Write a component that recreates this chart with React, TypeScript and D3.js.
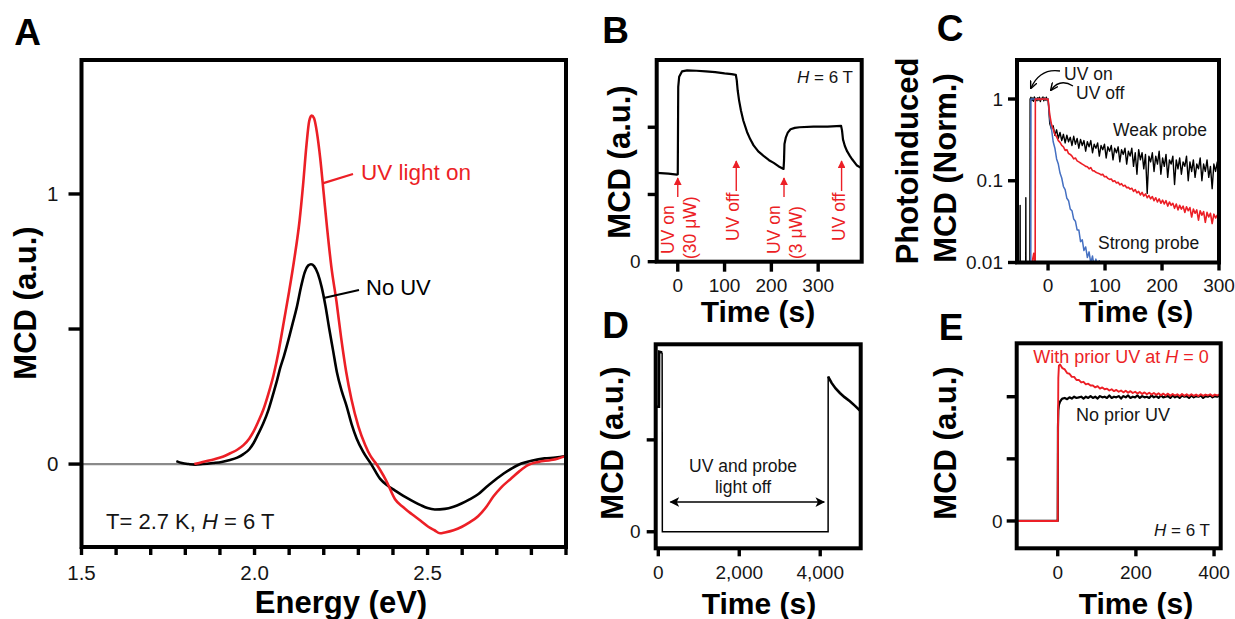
import React from "react";
import * as d3 from "d3";

const FONT = "'Liberation Sans', Arial, Helvetica, sans-serif";
const RED = "#ec1f26";
const BLUE = "#4570c2";
const INK = "#151515";

type P = [number, number];

// ================= Panel A : MCD spectra =================
const aXMajor = [1.5, 2.0, 2.5];
const aXMajorLabels = ["1.5", "2.0", "2.5"];
const aXMinor = [1.6, 1.7, 1.8, 1.9, 2.1, 2.2, 2.3, 2.4, 2.6, 2.7, 2.8, 2.9];
const aYTicks = [0, 0.5, 1];
const aYLabels = ["0", "", "1"];
const aNoUV: P[] = [
  [1.774, 0.011], [1.79, 0.004], [1.81, 0.0], [1.828, -0.002], [1.85, 0.0], [1.88, 0.004],
  [1.905, 0.008], [1.929, 0.015], [1.95, 0.024], [1.968, 0.037], [1.985, 0.055], [1.997, 0.077],
  [2.01, 0.11], [2.025, 0.15], [2.04, 0.2], [2.054, 0.26], [2.065, 0.31], [2.074, 0.355],
  [2.085, 0.4], [2.1, 0.47], [2.11, 0.52], [2.122, 0.58], [2.135, 0.66], [2.145, 0.71],
  [2.155, 0.735], [2.163, 0.74], [2.172, 0.733], [2.183, 0.705], [2.194, 0.655], [2.205, 0.585],
  [2.216, 0.5], [2.227, 0.42], [2.238, 0.34], [2.252, 0.27], [2.266, 0.215], [2.28, 0.15],
  [2.295, 0.095], [2.314, 0.045], [2.337, 0.0], [2.363, -0.055], [2.385, -0.08], [2.406, -0.098],
  [2.43, -0.118], [2.454, -0.135], [2.48, -0.152], [2.5, -0.163], [2.521, -0.168], [2.55, -0.166],
  [2.575, -0.158], [2.598, -0.146], [2.62, -0.132], [2.646, -0.112], [2.67, -0.085], [2.694, -0.06],
  [2.72, -0.035], [2.745, -0.015], [2.771, 0.002], [2.8, 0.012], [2.838, 0.021], [2.87, 0.024], [2.9, 0.03],
];
const aUVOn: P[] = [
  [1.826, 0.0], [1.85, 0.008], [1.884, 0.018], [1.91, 0.028], [1.93, 0.04], [1.95, 0.053],
  [1.968, 0.07], [1.985, 0.095], [1.997, 0.12], [2.01, 0.155], [2.025, 0.2], [2.04, 0.26],
  [2.055, 0.33], [2.07, 0.42], [2.085, 0.53], [2.1, 0.64], [2.115, 0.76], [2.13, 0.9],
  [2.14, 1.03], [2.15, 1.18], [2.158, 1.27], [2.165, 1.29], [2.172, 1.28], [2.18, 1.23],
  [2.19, 1.13], [2.2, 1.0], [2.21, 0.87], [2.222, 0.73], [2.237, 0.6], [2.25, 0.47],
  [2.265, 0.34], [2.28, 0.24], [2.3, 0.14], [2.32, 0.07], [2.335, 0.03], [2.352, 0.0],
  [2.363, -0.022], [2.38, -0.06], [2.406, -0.13], [2.43, -0.16], [2.454, -0.185], [2.48, -0.21],
  [2.502, -0.232], [2.52, -0.245], [2.536, -0.256], [2.55, -0.253], [2.575, -0.245], [2.598, -0.233],
  [2.62, -0.217], [2.646, -0.193], [2.67, -0.158], [2.69, -0.12], [2.713, -0.086], [2.74, -0.055],
  [2.765, -0.027], [2.79, -0.004], [2.82, 0.008], [2.857, 0.015], [2.875, 0.02], [2.9, 0.03],
];

// ================= Panel B : MCD vs time, H = 6 T =================
const bXTicks = [0, 100, 200, 300];
const bYTicks = [0, 1, 2];
const bYLabels = ["0", "", ""];
const bTrace: P[] = [
  [-45, 1.32], [-20, 1.31], [-2, 1.295], [0, 1.3], [1, 2.6], [3, 2.75], [9, 2.83], [20, 2.845],
  [40, 2.84], [60, 2.83], [80, 2.82], [100, 2.8], [115, 2.79], [124, 2.78], [126, 2.7], [128, 2.55],
  [131, 2.4], [135, 2.25], [140, 2.1], [148, 1.93], [155, 1.82], [162, 1.73], [172, 1.64], [184, 1.57],
  [195, 1.51], [205, 1.47], [215, 1.42], [226, 1.38], [227, 1.5], [228, 1.75], [231, 1.85], [235, 1.92],
  [241, 1.97], [250, 1.99], [260, 2.0], [290, 2.01], [320, 2.01], [349, 2.02], [351, 1.95], [353, 1.82],
  [357, 1.72], [362, 1.64], [368, 1.57], [373, 1.52], [383, 1.43], [393, 1.39],
];
const bEventTimes = [0, 125, 227, 350];
const bEventLine1 = ["UV on", "UV off", "UV on", "UV off"];
const bEventLine2 = ["(30 \u03bcW)", "", "(3 \u03bcW)", ""];

// ================= Panel C : normalized photoinduced MCD (log) =================
const cXTicks = [0, 100, 200, 300];
const cYTicks = [1, 0.1, 0.01];
const cYLabels = ["1", "0.1", "0.01"];
const cStep = 3;
const cBlackPre: P[] = [
  [-55, 0.004], [-49.3, 0.004], [-49, 0.05], [-48.7, 0.004], [-39.3, 0.004], [-39, 0.062],
  [-38.7, 0.004], [-32, 0.004],
];
const cBlackTop = [1.0, 1.05, 0.96, 1.03, 0.94, 1.06, 0.98, 1.02, 0.95, 1.04, 0.97, 1.05, 0.93, 1.02, 0.99, 1.06, 0.95, 1.03, 0.97, 1.05, 0.96, 1.0];
const cBlackDecay = [
  0.5, 0.43, 0.47, 0.36, 0.42, 0.33, 0.39, 0.31, 0.37, 0.29,
  0.36, 0.3, 0.34, 0.27, 0.35, 0.28, 0.33, 0.25, 0.32, 0.27,
  0.31, 0.23, 0.3, 0.26, 0.31, 0.22, 0.28, 0.25, 0.29, 0.2,
  0.27, 0.24, 0.28, 0.19, 0.26, 0.23, 0.27, 0.18, 0.25, 0.22,
  0.26, 0.17, 0.24, 0.21, 0.25, 0.16, 0.23, 0.2, 0.25, 0.15,
  0.22, 0.12, 0.24, 0.18, 0.22, 0.14, 0.21, 0.07, 0.2, 0.17,
  0.22, 0.13, 0.2, 0.16, 0.23, 0.12, 0.19, 0.15, 0.21, 0.11,
  0.18, 0.16, 0.2, 0.09, 0.18, 0.14, 0.19, 0.12, 0.17, 0.15,
  0.2, 0.1, 0.17, 0.13, 0.18, 0.11, 0.16, 0.14, 0.19, 0.1,
  0.16, 0.13, 0.18, 0.11, 0.15, 0.08, 0.16, 0.13, 0.17, 0.12,
];
const cRedPre: P[] = [[-28, 0.004], [-27, 0.011], [-25, 0.013], [-23.5, 0.01], [-22.6, 0.009], [-22.3, 1.0]];
const cRedTop = [1.0, 0.99, 1.01, 0.98, 1.0, 1.01, 0.99, 1.0, 1.01, 0.99, 1.0];
const cRedDecay = [
  0.64, 0.49, 0.43, 0.37, 0.345, 0.31, 0.295, 0.27, 0.26, 0.235,
  0.24, 0.215, 0.21, 0.2, 0.185, 0.19, 0.175, 0.17, 0.165, 0.16,
  0.155, 0.15, 0.148, 0.14, 0.145, 0.133, 0.132, 0.127, 0.124, 0.122,
  0.118, 0.12, 0.112, 0.113, 0.107, 0.104, 0.105, 0.098, 0.1, 0.094,
  0.096, 0.089, 0.092, 0.086, 0.088, 0.082, 0.083, 0.079, 0.081, 0.074,
  0.078, 0.071, 0.074, 0.067, 0.072, 0.065, 0.069, 0.062, 0.066, 0.06,
  0.064, 0.057, 0.062, 0.055, 0.06, 0.053, 0.058, 0.052, 0.057, 0.049,
  0.055, 0.05, 0.053, 0.046, 0.052, 0.044, 0.05, 0.045, 0.049, 0.041,
  0.048, 0.043, 0.047, 0.036, 0.045, 0.04, 0.044, 0.033, 0.043, 0.038,
  0.042, 0.031, 0.041, 0.036, 0.04, 0.03, 0.039, 0.035, 0.038, 0.036,
];
const cBluePre: P[] = [[-55, 0.004], [-30.3, 0.004], [-30, 1.0], [0, 1.0]];
const cBlueDecay = [
  0.58, 0.43, 0.3, 0.25, 0.185, 0.16, 0.124, 0.108, 0.085, 0.078,
  0.061, 0.057, 0.045, 0.043, 0.034, 0.032, 0.025, 0.025, 0.018, 0.019,
  0.014, 0.0155, 0.0115, 0.0135, 0.0098, 0.012, 0.0088, 0.011, 0.0082, 0.0105,
  0.0068, 0.0098, 0.005,
];

// ================= Panel D : long dark interval =================
const dXTicks = [0, 2000, 4000];
const dXLabels = ["0", "2,000", "4,000"];
const dYTicks = [0, 1];
const dYLabels = ["0", ""];
const dStub: P[] = [[-64, 1.36], [15, 1.36], [20, 1.96], [95, 1.95]];
const dGap: P[] = [[95, 1.95], [100, 0], [4195, 0], [4197, 1.69]];
const dRecovery: P[] = [
  [4197, 1.69], [4230, 1.66], [4281, 1.62], [4380, 1.56], [4486, 1.51], [4600, 1.465],
  [4733, 1.42], [4860, 1.37], [5000, 1.31],
];

// ================= Panel E : with / without prior UV =================
const eXTicks = [0, 200, 400];
const eYTicks = [0, 1, 2];
const eYLabels = ["0", "", ""];
const eStep = 6;
const eRedPre: P[] = [[-105, 0], [0, 0], [0.6, 1.4], [1.5, 2.3], [3, 2.5]];
const eRedDecay = [
  2.52, 2.46, 2.44, 2.38, 2.37, 2.32, 2.32, 2.27, 2.27, 2.23,
  2.24, 2.2, 2.21, 2.18, 2.18, 2.15, 2.17, 2.13, 2.15, 2.12,
  2.13, 2.1, 2.12, 2.09, 2.11, 2.08, 2.1, 2.07, 2.095, 2.065,
  2.09, 2.06, 2.08, 2.05, 2.075, 2.045, 2.07, 2.04, 2.065, 2.035,
  2.06, 2.03, 2.055, 2.025, 2.05, 2.02, 2.05, 2.015, 2.045, 2.02,
  2.04, 2.01, 2.045, 2.015, 2.04, 2.01, 2.04, 2.015, 2.035, 2.01,
  2.04, 2.015, 2.035, 2.02, 2.04, 2.01, 2.035, 2.02, 2.04,
];
const eBlackPre: P[] = [[-105, 0], [0, 0], [0.6, 1.5], [1.5, 1.78], [3, 1.87], [6, 1.92], [9, 1.95]];
const eBlackFlat = [
  1.97, 1.98, 1.96, 1.99, 1.97, 2.0, 1.98, 1.99, 2.0, 1.97,
  2.0, 1.98, 2.01, 1.98, 2.0, 1.97, 2.01, 1.99, 2.0, 1.98,
  2.02, 1.98, 2.0, 1.99, 2.01, 1.97, 2.01, 1.99, 2.02, 1.98,
  2.0, 1.99, 2.02, 1.98, 2.01, 1.99, 2.0, 1.98, 2.02, 1.99,
  2.01, 1.98, 2.02, 1.99, 2.0, 2.01, 1.98, 2.02, 1.99, 2.01,
  1.98, 2.02, 2.0, 2.01, 1.98, 2.02, 1.99, 2.01, 2.0, 2.02,
  1.98, 2.01, 2.0, 2.02, 1.99, 2.01, 2.0, 2.02,
];

const stepSeries = (t0: number, step: number, vals: number[]): P[] => vals.map((v, i) => [t0 + i * step, v] as P);

type Scale = (v: number) => number;

const FRAME_W = 4;
const TICK_W = 3.4;

function Frame({ x, y }: { x: any; y: any }) {
  const [x0, x1] = x.range();
  const [y1, y0] = y.range();
  return <rect x={x0} y={y0} width={x1 - x0} height={y1 - y0} fill="none" stroke="#000" strokeWidth={FRAME_W} />;
}

function Clip({ x, y, id }: { x: any; y: any; id: string }) {
  const [x0, x1] = x.range();
  const [y1, y0] = y.range();
  return (
    <clipPath id={id}>
      <rect x={x0} y={y0} width={x1 - x0} height={y1 - y0} />
    </clipPath>
  );
}

function LeftTicks({ x, y, ticks, labels, len, gap, fs }: any) {
  const x0 = x.range()[0];
  return (
    <g>
      {ticks.map((t: number, i: number) => (
        <g key={i}>
          <line x1={x0 - len} x2={x0} y1={y(t)} y2={y(t)} stroke="#000" strokeWidth={TICK_W} />
          {labels[i] ? (
            <text x={x0 - len - gap} y={y(t)} dy="0.35em" textAnchor="end" fontSize={fs} fill={INK}>
              {labels[i]}
            </text>
          ) : null}
        </g>
      ))}
    </g>
  );
}

function BottomTicks({ x, y, ticks, labels, len, labelY, fs }: any) {
  const y1 = y.range()[0];
  return (
    <g>
      {ticks.map((t: number, i: number) => (
        <g key={i}>
          <line x1={x(t)} x2={x(t)} y1={y1} y2={y1 + len} stroke="#000" strokeWidth={TICK_W} />
          {labels && labels[i] ? (
            <text x={x(t)} y={labelY} dy="0.35em" textAnchor="middle" fontSize={fs} fill={INK}>
              {labels[i]}
            </text>
          ) : null}
        </g>
      ))}
    </g>
  );
}

function VTitle({ x, y, children, fs = 31 }: any) {
  return (
    <text transform={`translate(${x},${y}) rotate(-90)`} dy="0.35em" textAnchor="middle" fontSize={fs} fontWeight="bold" fill="#000">
      {children}
    </text>
  );
}

function HTitle({ x, y, children, fs = 31 }: any) {
  return (
    <text x={x} y={y} dy="0.35em" textAnchor="middle" fontSize={fs} fontWeight="bold" fill="#000">
      {children}
    </text>
  );
}

function Letter({ x, y, children }: any) {
  return (
    <text x={x} y={y} textAnchor="middle" fontSize={37} fontWeight="bold" fill="#000">
      {children}
    </text>
  );
}

export default function App() {
  const ax = d3.scaleLinear().domain([1.5, 2.9]).range([81.5, 566]);
  const ay = d3.scaleLinear().domain([-0.307, 1.496]).range([547, 60]);
  const bx = d3.scaleLinear().domain([-45, 393]).range([656.7, 861.7]);
  const by = d3.scaleLinear().domain([0, 3]).range([261.7, 60]);
  const cx = d3.scaleLinear().domain([-54.5, 300]).range([1017, 1219]);
  const cy = d3.scaleLog().domain([0.01, 3]).range([262.5, 60]);
  const dx = d3.scaleLinear().domain([-64, 5000]).range([655.7, 860.7]);
  const dy = d3.scaleLinear().domain([-0.18, 2.04]).range([548.3, 344.3]);
  const ex = d3.scaleLinear().domain([-105, 417]).range([1016.7, 1220.7]);
  const ey = d3.scaleLinear().domain([-0.44, 2.86]).range([548.3, 343.3]);

  const mk = (sx: Scale, sy: Scale, curve: any = d3.curveLinear) =>
    d3.line<P>().x((d) => sx(d[0])).y((d) => sy(d[1])).curve(curve);

  const aLine = mk(ax, ay, d3.curveMonotoneX);
  const bLine = mk(bx, by);
  const cLine = mk(cx, cy);
  const dLine = mk(dx, dy);
  const eLine = mk(ex, ey);

  const cBlack: P[] = [...cBlackPre, ...stepSeries(-31.5, 1.5, cBlackTop), ...stepSeries(cStep, cStep, cBlackDecay)];
  const cRed: P[] = [...cRedPre, ...stepSeries(-20, 2, cRedTop), ...stepSeries(cStep, cStep, cRedDecay)];
  const cBlue: P[] = [...cBluePre, ...stepSeries(cStep, cStep, cBlueDecay)];
  const eRed: P[] = [...eRedPre, ...stepSeries(eStep, eStep, eRedDecay)];
  const eBlack: P[] = [...eBlackPre, ...stepSeries(12, eStep, eBlackFlat)];

  const smallFs = 19;
  const noteFs = 17.5;

  return (
    <svg
      width={1235}
      height={619}
      viewBox="0 0 1235 619"
      style={{ position: "absolute", left: 0, top: 0, display: "block", background: "#fff" }}
      fontFamily={FONT}
    >
      <defs>
        <Clip x={ax} y={ay} id="clipA" />
        <Clip x={bx} y={by} id="clipB" />
        <Clip x={cx} y={cy} id="clipC" />
        <Clip x={dx} y={dy} id="clipD" />
        <Clip x={ex} y={ey} id="clipE" />
        <marker id="arrRed" viewBox="0 0 10 10" refX="9" refY="5" markerWidth="5.5" markerHeight="5.5" orient="auto-start-reverse">
          <path d="M0,0 L10,5 L0,10 z" fill={RED} />
        </marker>
        <marker id="arrBlk" viewBox="0 0 10 10" refX="9" refY="5" markerWidth="6.5" markerHeight="6.5" orient="auto-start-reverse">
          <path d="M0,0 L10,5 L0,10 L2.5,5 z" fill="#000" />
        </marker>
        <marker id="arrC" viewBox="0 0 10 10" refX="9" refY="5" markerWidth="6" markerHeight="6" orient="auto">
          <path d="M0,0.5 L10,5 L0,9.5" fill="none" stroke="#000" strokeWidth={1.8} />
        </marker>
      </defs>

      {/* ================= Panel A ================= */}
      <Letter x={27.5} y={45}>A</Letter>
      <g clipPath="url(#clipA)">
        <line x1={ax(1.5)} x2={ax(2.9)} y1={ay(0)} y2={ay(0)} stroke="#8a8a8a" strokeWidth={2.2} />
        <path d={aLine(aNoUV) || ""} fill="none" stroke="#000" strokeWidth={2.6} />
        <path d={aLine(aUVOn) || ""} fill="none" stroke={RED} strokeWidth={2.6} />
      </g>
      <line x1={ax(2.199)} y1={ay(1.04)} x2={353} y2={174} stroke={RED} strokeWidth={2.2} />
      <text x={361} y={179.5} fontSize={22.5} fill={RED}>UV light on</text>
      <line x1={ax(2.2)} y1={ay(0.615)} x2={359} y2={290} stroke="#000" strokeWidth={2.2} />
      <text x={366} y={295} fontSize={22} fill="#000">No UV</text>
      <text x={106} y={529} fontSize={22} fill={INK}>
        T= 2.7 K, <tspan fontStyle="italic">H</tspan> = 6 T
      </text>
      <Frame x={ax} y={ay} />
      <LeftTicks x={ax} y={ay} ticks={aYTicks} labels={aYLabels} len={13} gap={10} fs={20.5} />
      <BottomTicks x={ax} y={ay} ticks={aXMajor} labels={aXMajorLabels} len={8} labelY={573} fs={20.5} />
      <BottomTicks x={ax} y={ay} ticks={aXMinor} labels={null} len={8} labelY={573} fs={20.5} />
      <VTitle x={25} y={303}>MCD (a.u.)</VTitle>
      <HTitle x={341} y={602}>Energy (eV)</HTitle>

      {/* ================= Panel B ================= */}
      <Letter x={615.5} y={43}>B</Letter>
      <g clipPath="url(#clipB)">
        <path d={bLine(bTrace) || ""} fill="none" stroke="#000" strokeWidth={2.2} strokeLinejoin="round" />
      </g>
      {bEventTimes.map((t, i) => {
        const xe = bx(t);
        const on = bEventLine2[i] !== "";
        const arrowBottom = on ? 197 : 191;
        const arrowTop = on ? 178 : 161;
        return (
          <g key={i} fill={RED} fontSize={noteFs}>
            <line x1={xe} x2={xe} y1={arrowBottom} y2={arrowTop} stroke={RED} strokeWidth={1.4} markerEnd="url(#arrRed)" />
            {on ? (
              <>
                <text transform={`translate(${xe - 10},${254}) rotate(-90)`} dy="0.35em">{bEventLine1[i]}</text>
                <text transform={`translate(${xe + 12},${259}) rotate(-90)`} dy="0.35em">{bEventLine2[i]}</text>
              </>
            ) : (
              <text transform={`translate(${xe - 3},${241}) rotate(-90)`} dy="0.35em">{bEventLine1[i]}</text>
            )}
          </g>
        );
      })}
      <text x={853} y={83} textAnchor="end" fontSize={17} fill={INK}>
        <tspan fontStyle="italic">H</tspan> = 6 T
      </text>
      <Frame x={bx} y={by} />
      <LeftTicks x={bx} y={by} ticks={bYTicks} labels={bYLabels} len={9} gap={7} fs={smallFs} />
      <BottomTicks x={bx} y={by} ticks={bXTicks} labels={bXTicks.map(String)} len={10} labelY={285} fs={smallFs} />
      <VTitle x={619} y={162}>MCD (a.u.)</VTitle>
      <HTitle x={758} y={311} fs={30}>Time (s)</HTitle>

      {/* ================= Panel C ================= */}
      <Letter x={950} y={41}>C</Letter>
      <g clipPath="url(#clipC)" fill="none" strokeLinejoin="round">
        <path d={cLine(cBlack) || ""} stroke="#000" strokeWidth={1.4} />
        <path d={cLine(cBlue) || ""} stroke={BLUE} strokeWidth={1.5} />
        <path d={cLine(cRed) || ""} stroke={RED} strokeWidth={1.6} />
      </g>
      <path d="M1060,71 Q1040,68 1031,88" fill="none" stroke="#000" strokeWidth={1.3} markerEnd="url(#arrC)" />
      <path d="M1073,86 Q1060,78 1051,90" fill="none" stroke="#000" strokeWidth={1.3} markerEnd="url(#arrC)" />
      <text x={1064} y={80} fontSize={noteFs} fill={INK}>UV on</text>
      <text x={1076} y={98.5} fontSize={noteFs} fill={INK}>UV off</text>
      <text x={1113} y={136} fontSize={noteFs} fill={INK}>Weak probe</text>
      <text x={1098} y={249} fontSize={noteFs} fill={INK}>Strong probe</text>
      <Frame x={cx} y={cy} />
      <LeftTicks x={cx} y={cy} ticks={cYTicks} labels={cYLabels} len={9} gap={5} fs={smallFs} />
      <BottomTicks x={cx} y={cy} ticks={cXTicks} labels={cXTicks.map(String)} len={8} labelY={285} fs={smallFs} />
      <VTitle x={907} y={161}>Photoinduced</VTitle>
      <VTitle x={945} y={168}>MCD (Norm.)</VTitle>
      <HTitle x={1136} y={311} fs={30}>Time (s)</HTitle>

      {/* ================= Panel D ================= */}
      <Letter x={615.5} y={338}>D</Letter>
      <g clipPath="url(#clipD)" fill="none">
        <path d={dLine(dGap) || ""} stroke="#000" strokeWidth={1.5} />
        <path d={dLine(dStub) || ""} stroke="#000" strokeWidth={2.6} />
        <path d={dLine(dRecovery) || ""} stroke="#000" strokeWidth={2.6} />
      </g>
      <text x={743} y={472} textAnchor="middle" fontSize={noteFs} fill={INK}>UV and probe</text>
      <text x={743} y={493} textAnchor="middle" fontSize={noteFs} fill={INK}>light off</text>
      <line x1={dx(300)} x2={dx(4100)} y1={502} y2={502} stroke="#000" strokeWidth={1.5} markerStart="url(#arrBlk)" markerEnd="url(#arrBlk)" />
      <Frame x={dx} y={dy} />
      <LeftTicks x={dx} y={dy} ticks={dYTicks} labels={dYLabels} len={9} gap={6} fs={smallFs} />
      <BottomTicks x={dx} y={dy} ticks={dXTicks} labels={dXLabels} len={8} labelY={572} fs={smallFs} />
      <VTitle x={612} y={443}>MCD (a.u.)</VTitle>
      <HTitle x={759} y={603} fs={30}>Time (s)</HTitle>

      {/* ================= Panel E ================= */}
      <Letter x={951} y={340}>E</Letter>
      <g clipPath="url(#clipE)" fill="none" strokeLinejoin="round">
        <path d={eLine(eBlack) || ""} stroke="#000" strokeWidth={2.2} />
        <path d={eLine(eRed) || ""} stroke={RED} strokeWidth={1.9} />
      </g>
      <text x={1121} y={363} textAnchor="middle" fontSize={18} fill={RED}>
        With prior UV at <tspan fontStyle="italic">H</tspan> = 0
      </text>
      <text x={1076} y={421} fontSize={18} fill={INK}>No prior UV</text>
      <text x={1210} y={536} textAnchor="end" fontSize={17} fill={INK}>
        <tspan fontStyle="italic">H</tspan> = 6 T
      </text>
      <Frame x={ex} y={ey} />
      <LeftTicks x={ex} y={ey} ticks={eYTicks} labels={eYLabels} len={10} gap={4} fs={smallFs} />
      <BottomTicks x={ex} y={ey} ticks={eXTicks} labels={eXTicks.map(String)} len={8} labelY={572} fs={smallFs} />
      <VTitle x={945} y={443}>MCD (a.u.)</VTitle>
      <HTitle x={1136} y={603} fs={30}>Time (s)</HTitle>
    </svg>
  );
}
